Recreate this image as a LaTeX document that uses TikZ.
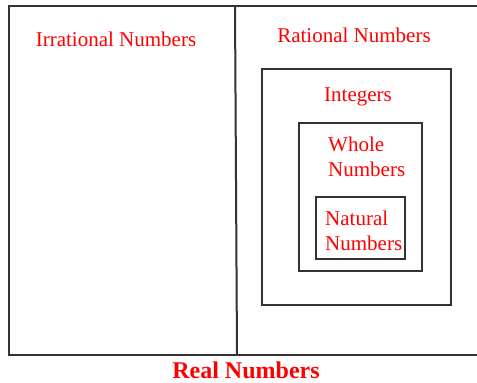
\documentclass[tikz,border=0pt]{standalone}
\usepackage{fontspec}
\setmainfont{Liberation Serif}
\usetikzlibrary{positioning}
\definecolor{setred}{HTML}{FF0000}
\definecolor{edgegray}{HTML}{333333}

\begin{document}
\begin{tikzpicture}[x=1pt, y=-1pt,
  setbox/.style={draw=edgegray, line width=2pt, inner sep=0pt},
  setlbl/.style={text=setred, font=\fontsize{21}{25}\selectfont, inner sep=0pt},
  setlblb/.style={setlbl, font=\fontsize{24}{28}\selectfont\bfseries}]

\useasboundingbox (0,0) rectangle (477,383);
\clip (0,0) rectangle (477,383);

% Real numbers: outer box, right side runs off the page
\draw[setbox] (480,6) -- (9,6) -- (9,355) -- (480,355);
\coordinate (divtop) at (235,6);
\coordinate (divbot) at (237,355);
\draw[setbox] (divtop) -- (divbot);

% Nested sets
\node[setbox, minimum width=189pt, minimum height=236pt] (ints) at (356.5,187) {};
\node[setbox, minimum width=123pt, minimum height=148pt] (whole) at (360.5,197) {};
\node[setbox, minimum width=89pt, minimum height=62pt] (natural) at (360.5,228) {};

% Labels
\node[setlbl] (irr) at (116,39) {Irrational Numbers};
\node[setlbl] (rat) at (354,35) {Rational Numbers};
\node[setlbl] (intlbl) at (358,97) {Integers};
\node[setlbl, align=left, anchor=west] (wholelbl) at (328,157) {Whole\\Numbers};
\node[setlbl, align=left, anchor=west] (natlbl) at (325,231) {Natural\\Numbers};
\node[setlblb] (real) at (246,370) {Real Numbers};

\end{tikzpicture}
\end{document}
